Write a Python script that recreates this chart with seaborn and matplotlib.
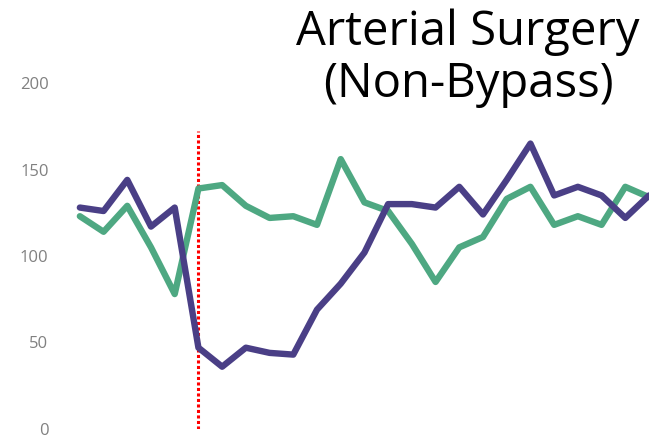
import numpy as np
import pandas as pd
import matplotlib
matplotlib.use("Agg")
import matplotlib.pyplot as plt
import seaborn as sns

# data
months = list(range(25))
purple_vals = [128, 126, 144, 117, 128, 47, 36, 47, 44, 43, 69, 84, 102, 130, 130, 128,
               140, 124, 144, 165, 135, 140, 135, 122, 135]
green_vals = [123, 114, 129, 105, 78, 139, 141, 129, 122, 123, 118, 156, 131, 126, 107, 85,
              105, 111, 133, 140, 118, 123, 118, 140, 134]
y_ticks = [0, 50, 100, 150, 200]
cutoff_idx = 5
cutoff_top = 172

df = pd.DataFrame({
    "month": months * 2,
    "value": purple_vals + green_vals,
    "series": ["purple"] * len(months) + ["green"] * len(months),
})

sns.set_style("white")
plt.rcParams["font.family"] = ["Open Sans", "DejaVu Sans"]

fig = plt.figure(figsize=(6.49, 4.38), dpi=100)
ax = fig.add_axes([68 / 649, 9 / 438, 581 / 649, 346 / 438])

sns.lineplot(data=df, x="month", y="value", hue="series",
             palette={"purple": "#4a3f86", "green": "#4ea882"},
             hue_order=["green", "purple"],
             linewidth=4.6, legend=False, ax=ax)

# dotted red marker line
ax.vlines(cutoff_idx, 0, cutoff_top, colors="#ff0000", linestyles=(0, (1, 0.8)),
          linewidth=2.2, zorder=1)

ax.set_xlim(-0.5, 24)
ax.set_ylim(0, 200)
ax.set_yticks(y_ticks)
ax.set_xticks([])
ax.tick_params(axis="y", length=0, pad=14, labelsize=12, labelcolor="#808080")
ax.set_xlabel("")
ax.set_ylabel("")
sns.despine(ax=ax, left=True, bottom=True)

fig.text(468 / 649, 1 - 9 / 438, "Arterial Surgery\n(Non-Bypass)", ha="center", va="top",
         fontsize=34, linespacing=1.12, color="#000000")

fig.savefig("out.png", dpi=100)
